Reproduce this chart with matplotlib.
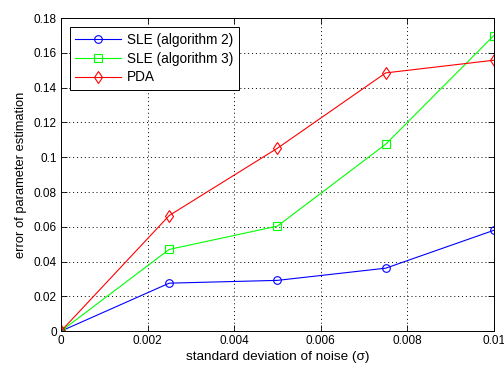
import matplotlib
matplotlib.use("Agg")
import matplotlib.pyplot as plt
from matplotlib.ticker import FuncFormatter

plt.rcParams['font.family'] = ['Liberation Sans', 'DejaVu Sans']

sigma = [0, 0.0025, 0.005, 0.0075, 0.01]
sle_alg2 = [0, 0.0276, 0.0292, 0.0362, 0.0580]
sle_alg3 = [0, 0.0470, 0.0604, 0.1075, 0.1700]
pda = [0, 0.0665, 0.1052, 0.1485, 0.1558]

xticks = [0, 0.002, 0.004, 0.006, 0.008, 0.01]
yticks = [0, 0.02, 0.04, 0.06, 0.08, 0.1, 0.12, 0.14, 0.16, 0.18]

fig = plt.figure(figsize=(5.04, 3.70), dpi=100)
ax = fig.add_axes([0.121, 0.105, 0.859, 0.846])

ax.plot(sigma, sle_alg2, color='#0000ff', lw=0.8, marker='o', ms=5.5,
        mfc='none', mec='#0000ff', mew=0.8, label='SLE (algorithm 2)')
ax.plot(sigma, sle_alg3, color='#00ff00', lw=0.8, marker='s', ms=5.5,
        mfc='none', mec='#00ff00', mew=0.8, label='SLE (algorithm 3)')
ax.plot(sigma, pda, color='#ff0000', lw=0.8, marker='d', ms=6,
        mfc='none', mec='#ff0000', mew=0.8, label='PDA')

ax.set_xlim(0, 0.01)
ax.set_ylim(0, 0.18)
ax.set_xticks(xticks)
ax.set_yticks(yticks)

def fmt(v, pos):
    return ('%.3f' % v).rstrip('0').rstrip('.')

ax.xaxis.set_major_formatter(FuncFormatter(fmt))
ax.yaxis.set_major_formatter(FuncFormatter(fmt))

ax.grid(True, color='black', linestyle=(0, (1, 3)), linewidth=0.7)
ax.tick_params(direction='in', length=4, width=0.6, labelsize=8.5,
               top=True, right=True, pad=3)
for s in ax.spines.values():
    s.set_linewidth(0.7)

ax.set_xlabel('standard deviation of noise (σ)', fontsize=9.7, labelpad=3)
ax.set_ylabel('error of parameter estimation', fontsize=9.3, labelpad=5)

leg = ax.legend(loc='upper left', fontsize=9.8, fancybox=False,
                edgecolor='black', framealpha=1, borderpad=0.4,
                handlelength=3.4, labelspacing=0.35, handletextpad=0.4,
                bbox_to_anchor=(0.004, 0.992))
leg.get_frame().set_linewidth(0.7)

fig.savefig('out.png', dpi=100)
